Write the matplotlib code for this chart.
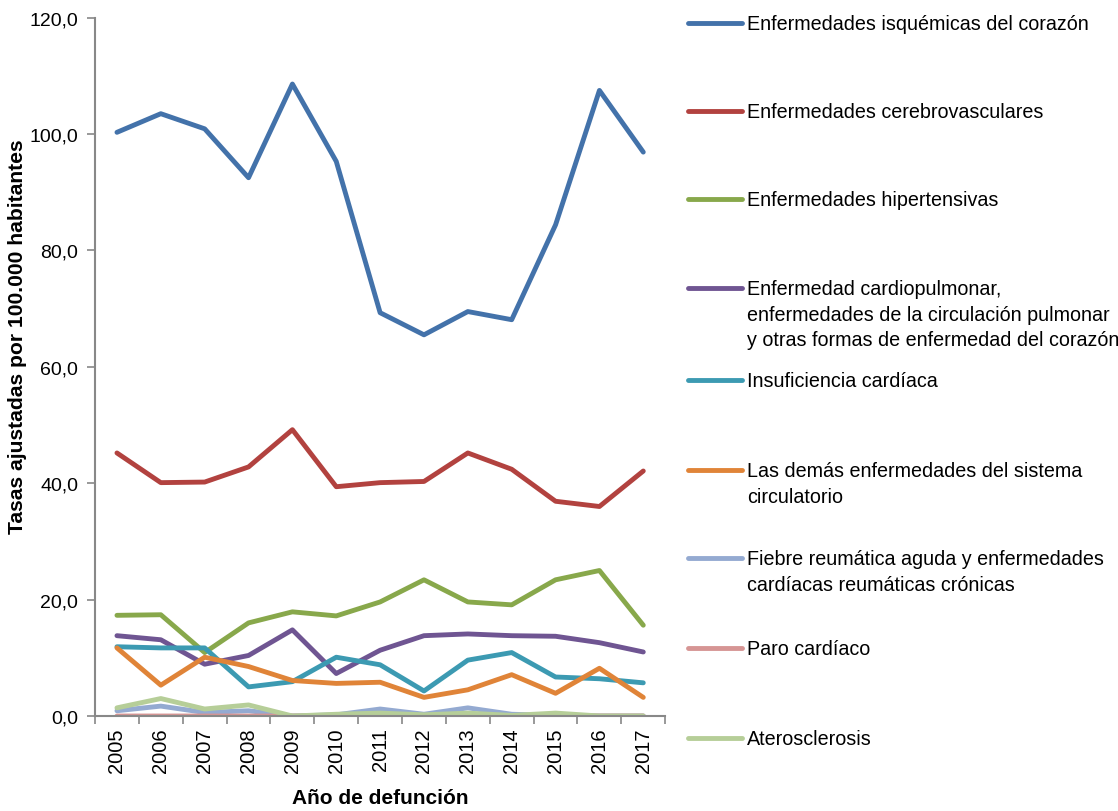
import numpy as np
import matplotlib.pyplot as plt
from matplotlib.lines import Line2D
from matplotlib.ticker import FixedLocator, FuncFormatter

plt.rcParams['font.family'] = ['Liberation Sans', 'DejaVu Sans']

# ---------- data ----------
years = ['2005', '2006', '2007', '2008', '2009', '2010', '2011',
         '2012', '2013', '2014', '2015', '2016', '2017']

isquemicas = [100.3, 103.5, 100.9, 92.5, 108.6, 95.3, 69.3, 65.5, 69.5, 68.1, 84.4, 107.5, 96.9]
cerebrovasc = [45.2, 40.1, 40.2, 42.8, 49.2, 39.4, 40.1, 40.3, 45.2, 42.4, 36.9, 36.0, 42.1]
hipertensivas = [17.3, 17.4, 10.9, 16.0, 17.9, 17.2, 19.6, 23.4, 19.6, 19.1, 23.4, 25.0, 15.6]
cardiopulmonar = [13.8, 13.1, 8.9, 10.4, 14.8, 7.3, 11.3, 13.8, 14.1, 13.8, 13.7, 12.6, 11.0]
insuficiencia = [11.9, 11.7, 11.7, 5.0, 5.9, 10.1, 8.8, 4.3, 9.6, 10.9, 6.7, 6.4, 5.7]
demas = [11.7, 5.3, 10.1, 8.5, 6.1, 5.6, 5.8, 3.2, 4.5, 7.1, 3.9, 8.2, 3.2]
fiebre = [0.9, 1.7, 0.6, 0.9, 0.0, 0.2, 1.2, 0.3, 1.4, 0.3, 0.1, 0.0, 0.0]
paro = [0.0, 0.0, 0.0, 0.0, 0.0, 0.0, 0.1, 0.0, 0.1, 0.0, 0.0, 0.0, 0.0]
aterosclerosis = [1.4, 3.0, 1.2, 1.9, 0.0, 0.3, 0.5, 0.2, 0.5, 0.1, 0.5, 0.0, 0.0]

series = [
    ('Enfermedades isquémicas del corazón', isquemicas, '#4372AA'),
    ('Enfermedades cerebrovasculares', cerebrovasc, '#B2423F'),
    ('Enfermedades hipertensivas', hipertensivas, '#88A84B'),
    ('Enfermedad cardiopulmonar,\nenfermedades de la circulación pulmonar\ny otras formas de enfermedad del corazón',
     cardiopulmonar, '#6F5592'),
    ('Insuficiencia cardíaca', insuficiencia, '#3C9AB2'),
    ('Las demás enfermedades del sistema\ncirculatorio', demas, '#E08438'),
    ('Fiebre reumática aguda y enfermedades\ncardíacas reumáticas crónicas', fiebre, '#94AAD1'),
    ('Paro cardíaco', paro, '#D69594'),
    ('Aterosclerosis', aterosclerosis, '#B6CE98'),
]

# ---------- plot ----------
fig = plt.figure(figsize=(11.18, 8.12), dpi=100)
ax = fig.add_axes([0.085, 0.117, 0.51, 0.86])

x = np.arange(len(years))
for label, vals, color in series:
    ax.plot(x, vals, color=color, lw=3.5, solid_capstyle='round', solid_joinstyle='round')

ax.set_xlim(-0.5, len(years) - 0.5)
ax.set_ylim(0, 120)
ax.set_yticks(np.arange(0, 121, 20))
ax.yaxis.set_major_formatter(FuncFormatter(lambda v, p: f'{v:.1f}'.replace('.', ',')))

ax.set_xticks(x)
ax.set_xticklabels(years, rotation=90)
ax.xaxis.set_minor_locator(FixedLocator(np.arange(-0.5, len(years), 1.0)))
ax.tick_params(axis='x', which='major', length=0, labelsize=14.5, pad=8)
ax.tick_params(axis='x', which='minor', length=6, color='#888888', width=1.2)
ax.tick_params(axis='y', length=6, color='#888888', width=1.2, labelsize=14, pad=6)

for s in ['top', 'right']:
    ax.spines[s].set_visible(False)
for s in ['left', 'bottom']:
    ax.spines[s].set_color('#888888')
    ax.spines[s].set_linewidth(1.5)

ax.set_ylabel('Tasas ajustadas por 100.000 habitantes', fontsize=15.2, fontweight='bold')
ax.yaxis.set_label_coords(-0.119, 0.544)
ax.set_xlabel('Año de defunción', fontsize=15, fontweight='bold', labelpad=12)

# ---------- legend (manual, Excel style) ----------
W, H = 1118, 812
y_px = [24, 112, 200, 289, 381, 471, 559, 649, 739]
for (label, vals, color), yp in zip(series, y_px):
    yf = 1 - yp / H
    fig.add_artist(Line2D([688 / W, 742 / W], [yf, yf], color=color, lw=3.5,
                          solid_capstyle='round', transform=fig.transFigure))
    fig.text(747 / W, 1 - (yp - 9) / H, label, fontsize=14.2, va='top', ha='left',
             linespacing=1.45)

fig.savefig('out.png', dpi=100)
